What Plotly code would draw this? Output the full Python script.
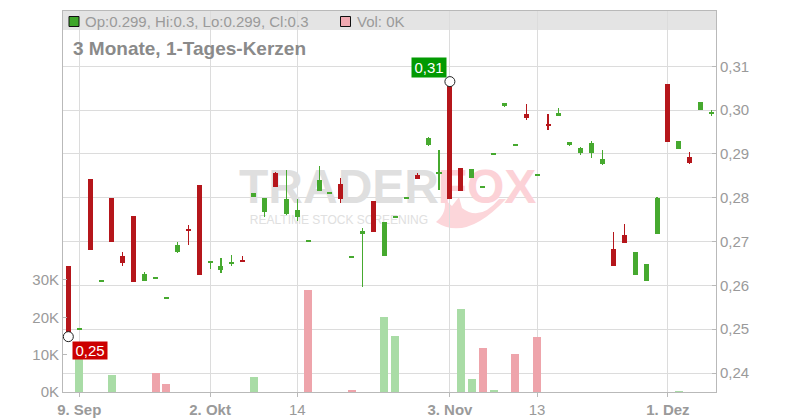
import plotly.graph_objects as go

# ---------------- data ----------------
dates = [
    "2025-09-08", "2025-09-09", "2025-09-10", "2025-09-11", "2025-09-12", "2025-09-15",
    "2025-09-17", "2025-09-18", "2025-09-22", "2025-09-24", "2025-09-25", "2025-09-29",
    "2025-10-01", "2025-10-02", "2025-10-03", "2025-10-06", "2025-10-07", "2025-10-08",
    "2025-10-09", "2025-10-10", "2025-10-13", "2025-10-14", "2025-10-15", "2025-10-16",
    "2025-10-17", "2025-10-20", "2025-10-21", "2025-10-22", "2025-10-23", "2025-10-24",
    "2025-10-27", "2025-10-28", "2025-10-29", "2025-10-30", "2025-10-31", "2025-11-03",
    "2025-11-04", "2025-11-05", "2025-11-06", "2025-11-07", "2025-11-10", "2025-11-11",
    "2025-11-12", "2025-11-13", "2025-11-14", "2025-11-17", "2025-11-18", "2025-11-19",
    "2025-11-20", "2025-11-21", "2025-11-24", "2025-11-25", "2025-11-26", "2025-11-27",
    "2025-11-28", "2025-12-01", "2025-12-02", "2025-12-03", "2025-12-04", "2025-12-05",
]
opens = [
    0.2645, 0.2500, 0.2843, 0.2610, 0.2800, 0.2667, 0.2759, 0.2609, 0.2617, 0.2571,
    0.2677, 0.2727, 0.2829, 0.2653, 0.2634, 0.2649, 0.2656, 0.2802, 0.2768, 0.2856,
    0.2763, 0.2757, 0.2701, 0.2816, 0.2810, 0.2832, 0.2664, 0.2718, 0.2793, 0.2666,
    0.2756, 0.2800, 0.2852, 0.2921, 0.2856, 0.3065, 0.2868, 0.2846, 0.2824, 0.2899,
    0.3010, 0.2920, 0.2991, 0.2851, 0.2966, 0.2987, 0.2921, 0.2903, 0.2903, 0.2877,
    0.2683, 0.2715, 0.2624, 0.2610, 0.2718, 0.3060, 0.2911, 0.2893, 0.3000, 0.2992,
]
highs = [
    0.2645, 0.2500, 0.2843, 0.2610, 0.2800, 0.2677, 0.2759, 0.2631, 0.2617, 0.2571,
    0.2699, 0.2738, 0.2829, 0.2655, 0.2663, 0.2670, 0.2667, 0.2811, 0.2800, 0.2859,
    0.2864, 0.2797, 0.2701, 0.2873, 0.2810, 0.2844, 0.2664, 0.2732, 0.2793, 0.2745,
    0.2756, 0.2800, 0.2856, 0.2939, 0.2909, 0.3065, 0.2868, 0.2866, 0.2824, 0.2899,
    0.3016, 0.2920, 0.3014, 0.2851, 0.2991, 0.3005, 0.2927, 0.2916, 0.2930, 0.2909,
    0.2722, 0.2740, 0.2677, 0.2649, 0.2802, 0.3060, 0.2930, 0.2905, 0.3019, 0.3000,
]
lows = [
    0.2483, 0.2500, 0.2680, 0.2610, 0.2700, 0.2645, 0.2607, 0.2609, 0.2617, 0.2571,
    0.2675, 0.2693, 0.2624, 0.2637, 0.2629, 0.2645, 0.2654, 0.2802, 0.2757, 0.2825,
    0.2761, 0.2746, 0.2701, 0.2816, 0.2810, 0.2789, 0.2664, 0.2597, 0.2721, 0.2666,
    0.2756, 0.2800, 0.2842, 0.2918, 0.2818, 0.2798, 0.2816, 0.2846, 0.2824, 0.2899,
    0.3006, 0.2920, 0.2978, 0.2851, 0.2955, 0.2987, 0.2918, 0.2898, 0.2891, 0.2875,
    0.2645, 0.2696, 0.2624, 0.2610, 0.2718, 0.2928, 0.2911, 0.2877, 0.3000, 0.2987,
]
closes = [
    0.2483, 0.2500, 0.2680, 0.2610, 0.2700, 0.2652, 0.2607, 0.2626, 0.2617, 0.2571,
    0.2693, 0.2724, 0.2624, 0.2654, 0.2645, 0.2654, 0.2654, 0.2811, 0.2800, 0.2825,
    0.2797, 0.2772, 0.2701, 0.2841, 0.2810, 0.2798, 0.2664, 0.2724, 0.2721, 0.2745,
    0.2756, 0.2800, 0.2842, 0.2936, 0.2859, 0.2798, 0.2816, 0.2866, 0.2824, 0.2899,
    0.3016, 0.2920, 0.2983, 0.2851, 0.2965, 0.2993, 0.2927, 0.2914, 0.2925, 0.2889,
    0.2645, 0.2696, 0.2677, 0.2649, 0.2800, 0.2928, 0.2930, 0.2880, 0.3019, 0.2996,
]
volumes = [
    0, 11000, 0, 0, 4600, 0, 0, 0, 5200, 2200,
    0, 0, 0, 0, 0, 0, 0, 4100, 0, 0,
    0, 0, 27400, 0, 0, 0, 600, 0, 0, 20200,
    15100, 0, 0, 0, 0, 0, 22300, 3600, 11900, 600,
    0, 10300, 0, 14600, 0, 0, 0, 0, 0, 0,
    0, 0, 0, 0, 0, 0, 300, 0, 0, 0,
]
tick_dates = ["2025-09-09", "2025-10-02", "2025-10-14", "2025-11-03", "2025-11-13", "2025-12-01"]
tick_labels = ["9. Sep", "2. Okt", "14", "3. Nov", "13", "1. Dez"]
price_ticks = [0.24, 0.25, 0.26, 0.27, 0.28, 0.29, 0.30, 0.31]
volume_ticks = [0, 10000, 20000, 30000]
title_text = "3 Monate, 1-Tages-Kerzen"

# ---------------- styling ----------------
FONT = "Liberation Sans, Arial, sans-serif"
GREEN = "#46a92f"
RED = "#b5161b"
VOL_GREEN = "#a9dca6"
VOL_RED = "#eea4ab"
GRID = "#dcdcdc"
AXIS = "#b9b9b9"
TICKFONT = dict(family=FONT, size=15, color="#9a9a9a")

W, H = 800, 420
ML, MR, MT, MB = 63, 84, 11, 28
PW, PH = W - ML - MR, H - MT - MB


def px_x(px):
    return (px - ML) / PW


def px_y(py):
    return (H - MB - py) / PH


n = len(dates)
xs = list(range(n))
x_range = [-0.49, n - 1 + 0.41]
price_range = [0.23567, 0.32261]
vol_range = [0, 102000]

up = [c >= o for o, c in zip(opens, closes)]
cand_colors = [GREEN if u else RED for u in up]
vol_colors = [VOL_GREEN] + [VOL_GREEN if closes[i] >= closes[i - 1] else VOL_RED for i in range(1, n)]

MIN_BODY = 0.00045
body_base, body_h = [], []
for o, c in zip(opens, closes):
    lo, hi = min(o, c), max(o, c)
    if hi - lo < MIN_BODY:
        mid = (hi + lo) / 2
        body_base.append(mid - MIN_BODY / 2)
        body_h.append(MIN_BODY)
    else:
        body_base.append(lo)
        body_h.append(hi - lo)

fig = go.Figure()

# watermark (on main subplot, beneath the candles)
slot = PW / (x_range[1] - x_range[0])


def wm_xpos(px):
    return x_range[0] + (px - ML) / slot


def wm_ypos(py):
    return price_range[0] + (H - MB - py) / PH * (price_range[1] - price_range[0])


fig.add_trace(go.Scatter(
    x=[wm_xpos(339), wm_xpos(487), wm_xpos(339)],
    y=[wm_ypos(191), wm_ypos(191), wm_ypos(221)],
    text=["<b>TRADER</b>", "<b>FOX</b>", "REALTIME STOCK SCREENING"],
    mode="text", textposition="middle center",
    textfont=dict(family=FONT, size=[48, 48, 12], color=["#dfdfdf", "#fcd2d7", "#e0e0e0"]),
    hoverinfo="skip", showlegend=False, xaxis="x", yaxis="y",
))

# volume bars
fig.add_trace(go.Bar(
    x=xs, y=volumes, width=0.734, marker=dict(color=vol_colors, line=dict(width=0)),
    hoverinfo="skip", showlegend=False, xaxis="x", yaxis="y2",
))

# wicks
fig.add_trace(go.Bar(
    x=xs, y=[h - l for h, l in zip(highs, lows)], base=lows, width=0.1,
    marker=dict(color=cand_colors, line=dict(width=0)),
    hoverinfo="skip", showlegend=False, xaxis="x", yaxis="y3",
))
# bodies
fig.add_trace(go.Bar(
    x=xs, y=body_h, base=body_base, width=0.46,
    marker=dict(color=cand_colors, line=dict(width=0)),
    hoverinfo="skip", showlegend=False, xaxis="x", yaxis="y3",
))

i_max = max(range(n), key=lambda i: highs[i])
i_min = min(range(n), key=lambda i: lows[i])
fig.add_trace(go.Scatter(
    x=[i_max, i_min], y=[highs[i_max], lows[i_min]], mode="markers",
    marker=dict(symbol="circle", size=10, color="white", line=dict(color="#222222", width=1)),
    hoverinfo="skip", showlegend=False, xaxis="x", yaxis="y3",
))

tickvals = [dates.index(d) for d in tick_dates]
ticktext = [f"<b>{t}</b>" if "." in t else t for t in tick_labels]


def fmt(v):
    return f"{round(v, 3):g}"


header = f"Op:{fmt(opens[-1])}, Hi:{fmt(highs[-1])}, Lo:{fmt(lows[-1])}, Cl:{fmt(closes[-1])}"
vol_text = f"Vol: {volumes[-1] / 1000:.0f}K"


def px_path(points):
    cmds = []
    for cmd, pts in points:
        coords = " ".join(f"{px_x(a):.5f},{px_y(b):.5f}" for a, b in pts)
        cmds.append(f"{cmd} {coords}")
    return " ".join(cmds) + " Z"


fox_tail = px_path([
    ("M", [(436, 222)]),
    ("Q", [(466, 242), (506, 199)]),
    ("L", [(499, 199)]),
    ("Q", [(480, 222), (462, 208)]),
    ("L", [(459, 197)]),
    ("L", [(452, 206)]),
    ("L", [(444, 199)]),
    ("Q", [(448, 212), (436, 222)]),
])

shapes = [
    dict(type="rect", xref="paper", yref="paper", x0=0, x1=1, y0=px_y(30), y1=1,
         fillcolor="#e4e4e4", line=dict(width=0), layer="below"),
    dict(type="path", xref="paper", yref="paper", path=fox_tail,
         fillcolor="#fcd6da", line=dict(width=0), layer="below"),
    dict(type="rect", xref="paper", yref="paper", x0=px_x(69), x1=px_x(79), y0=px_y(26.5), y1=px_y(16.5),
         fillcolor="#3fa62a", line=dict(color="#111111", width=1), layer="above"),
    dict(type="rect", xref="paper", yref="paper", x0=px_x(340.5), x1=px_x(350.5), y0=px_y(26.5), y1=px_y(16.5),
         fillcolor="#f0a9b1", line=dict(color="#111111", width=1), layer="above"),
]

annotations = [
    dict(xref="paper", yref="paper", x=px_x(83), y=px_y(21), xanchor="left", yanchor="middle",
         text=header, showarrow=False, font=dict(family=FONT, size=15, color="#9a9a9a")),
    dict(xref="paper", yref="paper", x=px_x(355), y=px_y(21), xanchor="left", yanchor="middle",
         text=vol_text, showarrow=False, font=dict(family=FONT, size=15, color="#9a9a9a")),
    dict(xref="paper", yref="paper", x=px_x(71), y=px_y(48), xanchor="left", yanchor="middle",
         text=f"<b>{title_text}</b>", showarrow=False, font=dict(family=FONT, size=19, color="#8a8a8a")),
    dict(xref="x", yref="y3", x=i_max, y=highs[i_max], xanchor="right", yanchor="bottom",
         xshift=-2.8, yshift=4, text=f"{highs[i_max]:.2f}".replace(".", ","), showarrow=False,
         width=34, height=18.5, borderpad=0,
         bgcolor="#029a02", font=dict(family=FONT, size=15, color="white")),
    dict(xref="x", yref="y3", x=i_min, y=lows[i_min], xanchor="left", yanchor="top",
         xshift=3.4, yshift=-4.5, text=f"{lows[i_min]:.2f}".replace(".", ","), showarrow=False,
         width=34, height=16.5, borderpad=0,
         bgcolor="#cc0000", font=dict(family=FONT, size=15, color="white")),
]

fig.update_layout(
    width=W, height=H, autosize=False,
    margin=dict(l=ML, r=MR, t=MT, b=MB, pad=0, autoexpand=False),
    paper_bgcolor="white", plot_bgcolor="white",
    separators=",.",
    barmode="overlay", bargap=0,
    showlegend=False,
    font=dict(family=FONT),
    xaxis=dict(
        range=x_range, tickvals=tickvals, ticktext=ticktext, automargin=False,
        showgrid=True, gridcolor=GRID, gridwidth=1, zeroline=False,
        showline=True, linecolor=AXIS, linewidth=1, mirror=True,
        ticks="outside", ticklen=4, tickcolor=AXIS, tickfont=TICKFONT, fixedrange=True,
    ),
    yaxis=dict(
        side="right", range=price_range, tickvals=price_ticks, tickformat=".2f", automargin=False,
        showgrid=True, gridcolor=GRID, gridwidth=1, zeroline=False,
        showline=True, linecolor=AXIS, linewidth=1,
        ticks="inside", ticklen=4, tickcolor=AXIS, tickfont=TICKFONT, fixedrange=True,
    ),
    yaxis2=dict(
        overlaying="y", side="left", range=vol_range, tickvals=volume_ticks, automargin=False,
        ticktext=[f"{int(v / 1000)}K" for v in volume_ticks],
        showgrid=False, zeroline=False, showline=True, linecolor=AXIS, linewidth=1,
        ticks="inside", ticklen=4, tickcolor=AXIS, tickfont=TICKFONT, fixedrange=True,
    ),
    yaxis3=dict(overlaying="y", range=price_range, visible=False, fixedrange=True, automargin=False),
    shapes=shapes,
    annotations=annotations,
)

fig.write_html(
    "out.html",
    config={"displayModeBar": False, "staticPlot": True},
    post_script="document.body.style.margin='0';document.documentElement.style.overflow='hidden';",
)
